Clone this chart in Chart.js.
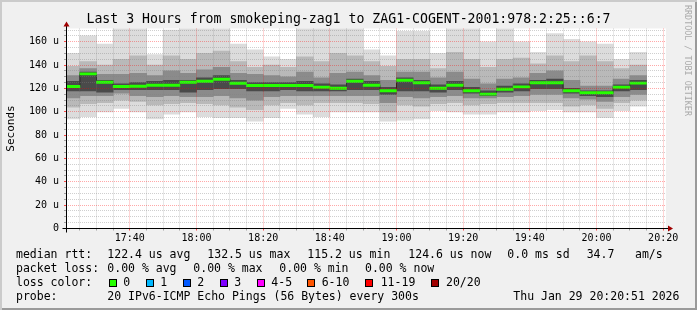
<!DOCTYPE html>
<html><head><meta charset="utf-8">
<script src="https://cdn.jsdelivr.net/npm/chart.js@4/dist/chart.umd.min.js"></script>
<style>
html,body{margin:0;padding:0;background:#f0f0f0;}
#wrap{position:relative;width:697px;height:310px;background:#f0f0f0;overflow:hidden;}
#c{position:absolute;left:0;top:0;}
.lg{position:absolute;font-family:'DejaVu Sans Mono',monospace;font-size:11.5px;line-height:14px;color:#000;white-space:pre;}
.bx{position:absolute;width:6px;height:6px;border:1px solid #000;}
#frame{position:absolute;left:0;top:0;width:697px;height:310px;pointer-events:none;box-shadow:inset 2px 2px 0 #cbcbcb, inset -2px -2px 0 #9a9a9a;}
#wm{position:absolute;left:683px;top:5px;writing-mode:vertical-rl;font-family:'DejaVu Sans Mono',monospace;font-size:8.4px;line-height:10px;color:#aaaaaa;white-space:pre;}
</style></head>
<body>
<div id="wrap">
<canvas id="c" width="697" height="310"></canvas>
<div id="legend"></div>
<div id="wm"></div>
<div id="frame"></div>
</div>
<script>
// ---------------- data ----------------
const chartTitle = 'Last 3 Hours from smokeping-zag1 to ZAG1-COGENT-2001:978:2:25::6:7';
const yAxisTitle = 'Seconds';
const watermark = 'RRDTOOL / TOBI OETIKER';
const rangeStart = '17:20:51';
const rangeEnd = '20:20:51';
const stepMinutes = 5;
const xTickStep = 5;
const xLabelStep = 20;
const yTickStep = 5;
const yLabelStep = 20;
const yMax = 171.4;

const slotEnds = ['17:25','17:30','17:35','17:40','17:45','17:50','17:55',
  '18:00','18:05','18:10','18:15','18:20','18:25','18:30','18:35','18:40','18:45','18:50','18:55',
  '19:00','19:05','19:10','19:15','19:20','19:25','19:30','19:35','19:40','19:45','19:50','19:55',
  '20:00','20:05','20:10','20:15'];

const medianRtt = [121.7,132.5,125.4,121.7,121.9,122.8,122.8,125.4,126.2,127.9,124.5,122.5,122.5,122.5,122.5,121.1,120.2,126.2,122.8,118.0,127.1,124.9,120.2,122.8,118.0,115.2,119.4,121.4,124.9,124.9,118.0,116.3,116.3,121.1,124.6];
const pingMin = [94,96,100,103,100,94,98,100,96,95,95,92,95,103,98,96,100,100,100,92,93,94,101,100,98,98,100,100,101,102,100,100,95,101,105];
const pingMax = [150,165,158,172,172,149,170,172,172,172,158,153,147,145,172,172,172,172,153,148,169,169,150,172,172,160,172,160,151,167,162,160,158,145,151];
const band2Lo = [104,107,108,110,109,106,107,108,107,106,104,102,106,108,106,108,108,108,107,100,106,105,107,108,106,107,108,108,108,108,105,106,103,108,110];
const band2Hi = [139,143,140,145,148,140,148,145,150,152,143,138,140,138,147,143,150,148,143,139,145,145,137,151,145,138,145,146,141,148,143,148,143,137,140];
const band3Lo = [112,114,114,116,114,113,114,113,113,114,112,110,113,114,114,114,114,114,114,108,113,112,113,114,112,112,113,114,115,115,112,111,109,113,115];
const band3Hi = [131,137,132,132,133,131,135,133,136,138,133,132,131,130,134,129,133,134,131,127,134,134,129,134,128,124,128,129,133,135,127,122,122,128,131];
const coreLo = [118,118,117,119,119,119,119,117,119,120,120,118,118,119,118,118,118,119,119,115,118,118,117,119,116,114,117,118,120,120,116,114,113,118,119];
const coreHi = [126,134,127,124,125,126,127,127,129,131,127,125,125,125,126,124,123,128,126,121,129,127,123,126,121,118,122,124,127,128,120,118,118,123,127];

const medianLabel = 'median rtt:';
const medianStats = ['122.4 us avg','132.5 us max','115.2 us min','124.6 us now','0.0 ms sd','34.7','am/s'];
const lossLabel = 'packet loss:';
const lossStats = ['0.00 % avg','0.00 % max','0.00 % min','0.00 % now'];
const colorLabel = 'loss color:';
const lossLabels = ['0','1','2','3','4-5','6-10','11-19','20/20'];
const lossColors = ['#26ff00','#00b8ff','#0059ff','#7e00ff','#ff00ff','#ff5500','#ff0000','#a10000'];
const probeLabel = 'probe:';
const probeText = '20 IPv6-ICMP Echo Pings (56 Bytes) every 300s';
const stampText = 'Thu Jan 29 20:20:51 2026';

// ---------------- legend (text) ----------------
const lg = document.getElementById('legend');
function addText(txt, left, top){const d=document.createElement('div');d.className='lg';d.style.left=left+'px';d.style.top=top+'px';d.textContent=txt;lg.appendChild(d);}
function addBox(color, left, top){const d=document.createElement('div');d.className='bx';d.style.left=left+'px';d.style.top=top+'px';d.style.background=color;lg.appendChild(d);}
const line1X=[107.3,207.3,307.3,408.3,507.3,586.7,635];
addText(medianLabel,16,247.4); medianStats.forEach((t,i)=>addText(t,line1X[i],247.4));
const line2X=[107.3,193.3,279.3,365];
addText(lossLabel,16,261.4); lossStats.forEach((t,i)=>addText(t,line2X[i],261.4));
const boxX=[108.7,145.7,182.7,219.7,256.7,307,365.3,430.7];
const boxTextX=[123.3,160.3,197.3,234.3,271.3,321.7,380.7,446];
addText(colorLabel,16,275.4);
lossLabels.forEach((t,i)=>{addBox(lossColors[i],boxX[i],278.5);addText(t,boxTextX[i],275.4);});
addText(probeLabel,16,289.2); addText(probeText,107.3,289.2); addText(stampText,513.3,289.2);
document.getElementById('wm').textContent = watermark;

// ---------------- chart ----------------
function toMin(s){const p=s.split(':').map(Number);return p[0]*60+p[1]+(p[2]||0)/60;}
function fmtTime(v){const m=Math.round(v);const h=Math.floor(m/60),mm=m%60;return h+':'+(mm<10?'0':'')+mm;}
const centers = slotEnds.map(t => toMin(t) - stepMinutes/2);

function band(lo, hi, color, order){
  return {type:'bar', data: centers.map((x,i)=>({x:x, y:[lo[i], hi[i]]})),
    backgroundColor:color, borderWidth:0, borderSkipped:false, order:order, clip:0,
    barPercentage:1, categoryPercentage:1, grouped:false, inflateAmount:0.4};
}
const greenHalf = 0.9;
const datasets = [
  band(pingMin, pingMax, '#dcdcdc', 7),
  band(band2Lo, band2Hi, '#b9b9b9', 6),
  band(band3Lo, band3Hi, '#8b8b8b', 5),
  band(coreLo, coreHi, '#4a4a4a', 4),
  {type:'line', data: centers.map((x,i)=>({x:x, y:medianRtt[i]})), borderColor:'#202020', borderWidth:1,
   pointRadius:0, stepped:'middle', fill:false, order:3, clip:0},
  band(medianRtt.map(m=>m-greenHalf), medianRtt.map(m=>m+greenHalf), lossColors[0], 1)
];

const minorGrid = 'rgba(128,128,128,0.38)', majorGrid = 'rgba(255,0,0,0.34)';
const minorTick = 'rgba(128,128,128,0.7)', majorTick = 'rgba(255,0,0,0.7)';
const isMajorX = c => !!(c && c.tick) && Math.round(c.tick.value) % xLabelStep === 0;
const isMajorY = c => !!(c && c.tick) && Math.round(c.tick.value) % yLabelStep === 0;
const FONT = "'DejaVu Sans Mono', monospace";

function clockTicks(scale){
  const out = [];
  for (let v = Math.ceil(scale.min / xTickStep) * xTickStep; v <= scale.max; v += xTickStep) out.push({value:v});
  scale.ticks = out;
}

const rrdPlugin = {
  id:'rrd',
  beforeDraw(chart){
    const {ctx, chartArea:a} = chart;
    ctx.save(); ctx.fillStyle='#ffffff';
    ctx.fillRect(a.left, a.top, a.right-a.left, a.bottom-a.top); ctx.restore();
  },
  afterDraw(chart){
    const {ctx, chartArea:a} = chart;
    const x0 = Math.floor(a.left)+0.5, y0 = Math.floor(a.bottom)+0.5;
    ctx.save();
    ctx.strokeStyle='#000'; ctx.lineWidth=1;
    ctx.beginPath(); ctx.moveTo(x0-4, y0); ctx.lineTo(a.right+4, y0); ctx.stroke();
    ctx.beginPath(); ctx.moveTo(x0, y0+4); ctx.lineTo(x0, a.top-4); ctx.stroke();
    ctx.fillStyle='#a00000';
    ctx.beginPath(); ctx.moveTo(a.right+2, y0-3); ctx.lineTo(a.right+2, y0+3); ctx.lineTo(a.right+7, y0); ctx.closePath(); ctx.fill();
    ctx.beginPath(); ctx.moveTo(x0-3, a.top-2); ctx.lineTo(x0+3, a.top-2); ctx.lineTo(x0, a.top-7); ctx.closePath(); ctx.fill();
    ctx.restore();
  }
};

new Chart(document.getElementById('c'), {
  type:'bar',
  data:{datasets:datasets},
  plugins:[rrdPlugin],
  options:{
    responsive:false, animation:false, devicePixelRatio:1,
    layout:{padding:0},
    plugins:{
      legend:{display:false}, tooltip:{enabled:false},
      title:{display:true, text:chartTitle, color:'#000',
        font:{family:FONT, size:13.2, weight:'normal', lineHeight:1.2},
        padding:{top:11.3, bottom:1.36}}
    },
    scales:{
      x:{type:'linear', offset:false, min:toMin(rangeStart), max:toMin(rangeEnd),
        afterFit:s=>{s.height=81.5;},
        afterBuildTicks:clockTicks,
        border:{display:false, dash:[1,1]},
        grid:{offset:false, z:1, lineWidth:1, tickLength:2,
          color:c=>isMajorX(c)?majorGrid:minorGrid,
          tickColor:c=>isMajorX(c)?majorTick:minorTick},
        ticks:{autoSkip:false, maxRotation:0, minRotation:0, padding:2,
          color:'#000', font:{family:FONT, size:10},
          callback:v=>Math.round(v)%xLabelStep===0?fmtTime(v):''}
      },
      y:{type:'linear', min:0, max:yMax,
        afterFit:s=>{s.width=66;},
        border:{display:false, dash:[1,1]},
        grid:{z:1, lineWidth:1, tickLength:2,
          color:c=>isMajorY(c)?majorGrid:minorGrid,
          tickColor:c=>isMajorY(c)?majorTick:minorTick},
        ticks:{stepSize:yTickStep, autoSkip:false, includeBounds:false, padding:5,
          color:'#000', font:{family:FONT, size:10},
          callback:v=>Math.round(v)%yLabelStep===0?(Math.round(v)===0?'0':Math.round(v)+' u'):''},
        title:{display:true, text:yAxisTitle, color:'#000',
          font:{family:FONT, size:11, lineHeight:1.2}, padding:{top:4.4,bottom:0}}
      },
      yRight:{type:'linear', position:'right', min:0, max:yMax, display:true,
        afterFit:s=>{s.width=31;},
        border:{display:false}, grid:{display:false, drawOnChartArea:false, drawTicks:false},
        ticks:{display:false}}
    }
  }
});
</script>
</body></html>
